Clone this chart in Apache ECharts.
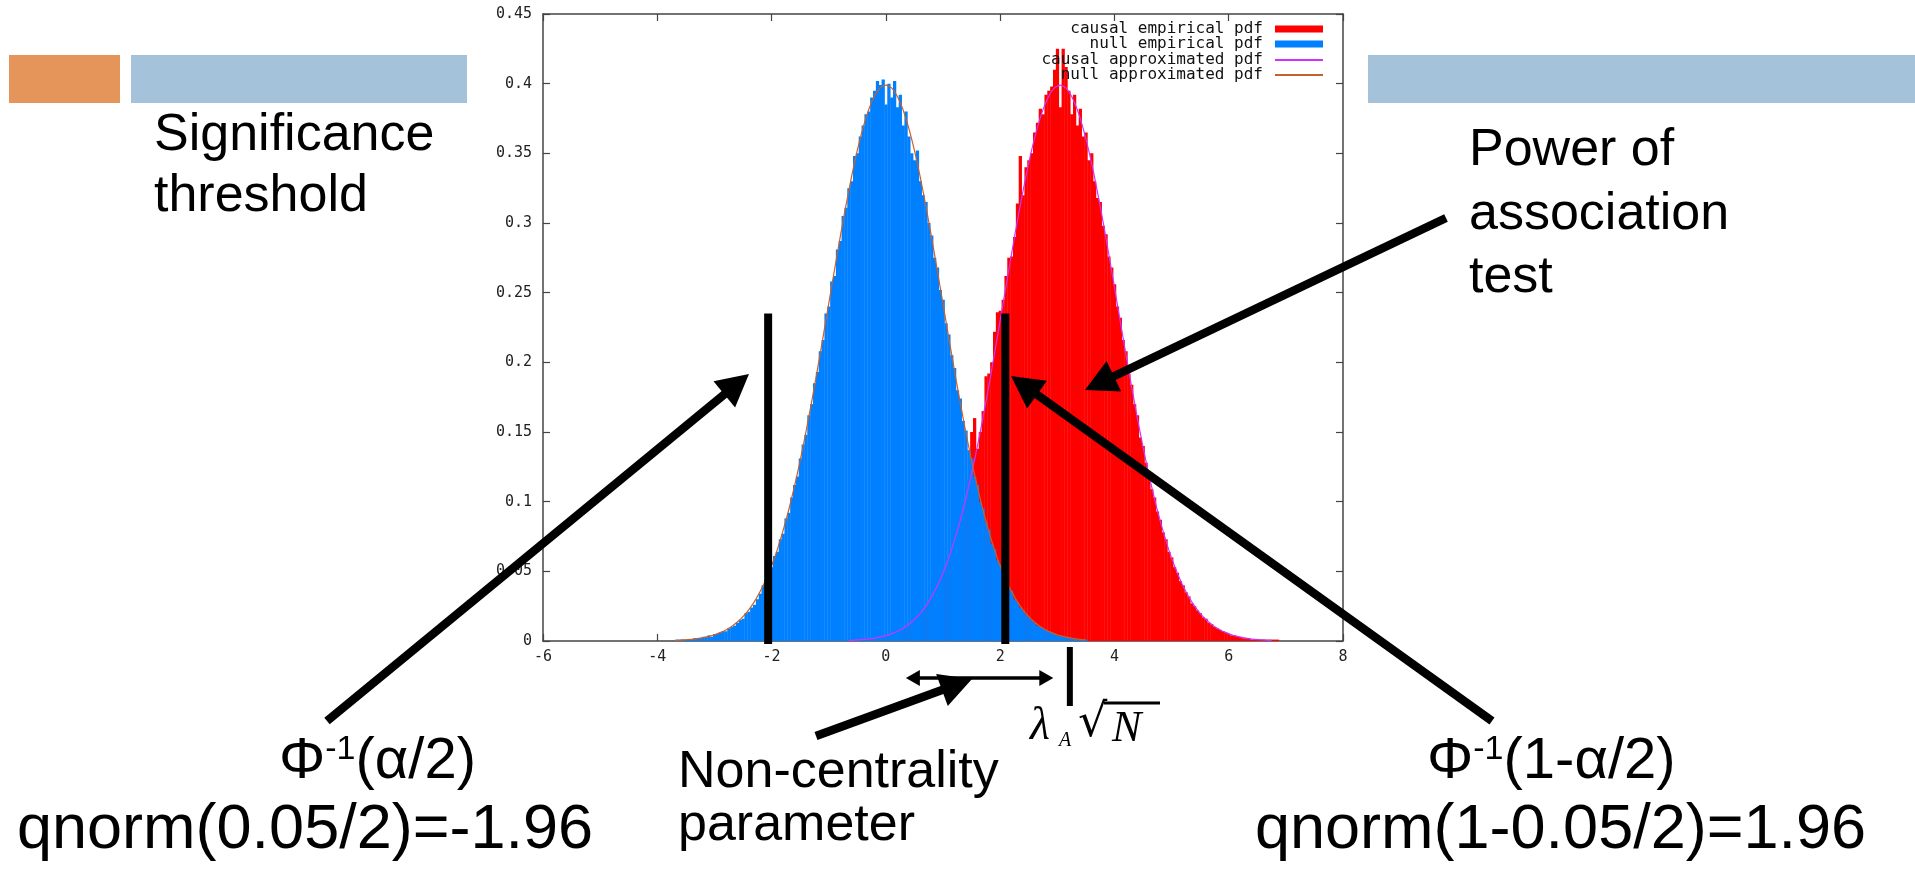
<!DOCTYPE html>
<html>
<head>
<meta charset="utf-8">
<script src="https://cdn.jsdelivr.net/npm/echarts@6/dist/echarts.min.js"></script>
<style>
html,body{margin:0;padding:0;background:#fff;}
#main{width:1915px;height:871px;}
</style>
</head>
<body>
<div id="main"></div>
<script>
// histogram bins (width 0.05)
var binWidth = 0.05;
var nullStart = -3.70;
var nullEmpirical = [
	0.0005,0.001,0.001,0.001,0.001,0.001,0.001,0.002,0.002,0.002,
	0.003,0.003,0.004,0.003,0.005,0.005,0.006,0.007,0.007,0.009,
	0.010,0.011,0.013,0.015,0.016,0.020,0.021,0.024,0.026,0.030,
	0.034,0.040,0.043,0.050,0.053,0.061,0.064,0.073,0.077,0.088,
	0.092,0.103,0.112,0.118,0.131,0.141,0.148,0.162,0.170,0.185,
	0.193,0.208,0.216,0.235,0.240,0.258,0.262,0.281,0.287,0.305,
	0.311,0.325,0.330,0.348,0.350,0.362,0.370,0.378,0.380,0.390,
	0.395,0.402,0.399,0.403,0.385,0.400,0.390,0.402,0.383,0.392,
	0.370,0.380,0.362,0.350,0.345,0.352,0.330,0.320,0.315,0.300,
	0.291,0.275,0.268,0.252,0.245,0.228,0.220,0.205,0.196,0.180,
	0.174,0.158,0.151,0.137,0.131,0.118,0.112,0.100,0.095,0.085,
	0.080,0.070,0.066,0.058,0.055,0.047,0.044,0.038,0.036,0.030,
	0.028,0.024,0.022,0.019,0.017,0.015,0.013,0.011,0.010,0.009,
	0.008,0.007,0.006,0.005,0.004,0.004,0.003,0.003,0.002,0.002,
	0.002,0.001,0.001,0.001,0.001
];
var causalStart = -0.60;
var causalEmpirical = [
	0.001,0.001,0.001,0.001,0.001,0.001,0.002,0.002,0.002,0.002,
	0.003,0.003,0.004,0.004,0.005,0.006,0.007,0.008,0.009,0.010,
	0.012,0.013,0.016,0.017,0.020,0.022,0.025,0.028,0.032,0.035,
	0.040,0.044,0.049,0.054,0.060,0.065,0.072,0.079,0.086,0.094,
	0.102,0.115,0.150,0.160,0.138,0.150,0.165,0.190,0.192,0.200,
	0.222,0.236,0.237,0.245,0.262,0.275,0.276,0.290,0.314,0.348,
	0.320,0.340,0.345,0.350,0.365,0.372,0.382,0.378,0.392,0.395,
	0.398,0.410,0.425,0.383,0.425,0.412,0.395,0.378,0.392,0.370,
	0.382,0.362,0.365,0.345,0.350,0.330,0.318,0.315,0.298,0.292,
	0.276,0.268,0.256,0.240,0.232,0.216,0.208,0.192,0.184,0.170,
	0.162,0.146,0.140,0.128,0.121,0.109,0.103,0.093,0.087,0.078,
	0.073,0.064,0.060,0.053,0.049,0.043,0.040,0.035,0.032,0.027,
	0.025,0.022,0.020,0.017,0.016,0.013,0.012,0.010,0.009,0.008,
	0.007,0.006,0.005,0.004,0.004,0.003,0.003,0.002,0.002,0.002,
	0.001,0.001,0.001,0.001,0.001,0.001,0.001,0.001,0.001,0.001
];
// approximated pdf curves, step 0.1
var curveStep = 0.1;
var nullApproxStart = -3.7;
var nullApprox = [
	0.0004,0.0006,0.0009,0.0012,0.0017,0.0024,0.0033,0.0044,0.0060,0.0079,
	0.0104,0.0136,0.0175,0.0224,0.0283,0.0355,0.0440,0.0540,0.0656,0.0790,
	0.0940,0.1109,0.1295,0.1497,0.1714,0.1942,0.2179,0.2420,0.2661,0.2897,
	0.3123,0.3332,0.3521,0.3683,0.3814,0.3910,0.3970,0.3989,0.3970,0.3910,
	0.3814,0.3683,0.3521,0.3332,0.3123,0.2897,0.2661,0.2420,0.2179,0.1942,
	0.1714,0.1497,0.1295,0.1109,0.0940,0.0790,0.0656,0.0540,0.0440,0.0355,
	0.0283,0.0224,0.0175,0.0136,0.0104,0.0079,0.0060,0.0044,0.0033,0.0024,
	0.0017,0.0012,0.0009
];
var causalApproxStart = -0.65;
var causalApprox = [
	0.0004,0.0006,0.0009,0.0012,0.0017,0.0024,0.0033,0.0044,0.0060,0.0079,
	0.0104,0.0136,0.0175,0.0224,0.0283,0.0355,0.0440,0.0540,0.0656,0.0790,
	0.0940,0.1109,0.1295,0.1497,0.1714,0.1942,0.2179,0.2420,0.2661,0.2897,
	0.3123,0.3332,0.3521,0.3683,0.3814,0.3910,0.3970,0.3989,0.3970,0.3910,
	0.3814,0.3683,0.3521,0.3332,0.3123,0.2897,0.2661,0.2420,0.2179,0.1942,
	0.1714,0.1497,0.1295,0.1109,0.0940,0.0790,0.0656,0.0540,0.0440,0.0355,
	0.0283,0.0224,0.0175,0.0136,0.0104,0.0079,0.0060,0.0044,0.0033,0.0024,
	0.0017,0.0012,0.0009,0.0006,0.0004
];
// slide annotations in data units
var thresholdX = [-2.06, 2.09];
var thresholdTop = 0.235;
var lambdaX = 3.22;
var nonCentrality = [0.35, 2.93];

var seriesNames = ['causal empirical pdf','null empirical pdf','causal approximated pdf','null approximated pdf'];

function toPairs(start, step, vals){
	var out=[];
	for(var i=0;i<vals.length;i++){
		out.push([Math.round((start+i*step)*1000)/1000, vals[i]]);
	}
	return out;
}

function renderBins(params, api){
	var x=api.value(0), y=api.value(1);
	var p0=api.coord([x-binWidth/2, y]);
	var p1=api.coord([x+binWidth/2, 0]);
	return {
		type:'rect',
		shape:{x:p0[0], y:p0[1], width:p1[0]-p0[0]+0.4, height:p1[1]-p0[1]},
		style:{fill:api.visual('color')}
	};
}

var tickFont = {fontFamily:'DejaVu Sans Mono', fontSize:15, color:'#222'};
var borderLine = {show:true, onZero:false, lineStyle:{color:'#444', width:1.5}};
var inTick = {show:true, inside:true, length:7, lineStyle:{color:'#444', width:1.2}};

function legendFor(name, top, h){
	return {
		data:[{name:name, icon:'rect'}],
		right:592, top:top, padding:0,
		align:'right', selectedMode:false,
		itemWidth:48, itemHeight:h,
		textStyle:{fontFamily:'DejaVu Sans Mono', fontSize:16, color:'#111', padding:[0,7,0,0]}
	};
}

var option = {
	animation:false,
	backgroundColor:'#fff',
	grid:{left:543, right:572, top:14, bottom:230},
	legend:[
		legendFor(seriesNames[0], 21, 7),
		legendFor(seriesNames[1], 36, 7),
		legendFor(seriesNames[2], 52, 2),
		legendFor(seriesNames[3], 67, 2)
	],
	xAxis:[{
		type:'value', min:-6, max:8, interval:2,
		axisLine:borderLine, axisTick:inTick,
		axisLabel:Object.assign({margin:9}, tickFont),
		splitLine:{show:false}
	},{
		type:'value', position:'top', min:-6, max:8, interval:2,
		axisLine:borderLine, axisTick:inTick, axisLabel:{show:false},
		splitLine:{show:false}
	}],
	yAxis:[{
		type:'value', min:0, max:0.45, interval:0.05,
		axisLine:borderLine, axisTick:inTick,
		axisLabel:Object.assign({margin:11}, tickFont),
		splitLine:{show:false}
	},{
		type:'value', position:'right', min:0, max:0.45, interval:0.05,
		axisLine:borderLine, axisTick:inTick, axisLabel:{show:false},
		splitLine:{show:false}
	}],
	series:[{
		name:seriesNames[0], type:'custom', renderItem:renderBins,
		itemStyle:{color:'#ff0000'},
		data:toPairs(causalStart, binWidth, causalEmpirical)
	},{
		name:seriesNames[1], type:'custom', renderItem:renderBins,
		itemStyle:{color:'#0080ff'},
		data:toPairs(nullStart, binWidth, nullEmpirical)
	},{
		name:seriesNames[2], type:'line', showSymbol:false, smooth:0.2,
		itemStyle:{color:'#cc33ff'}, lineStyle:{color:'#cc33ff', width:1.2},
		data:toPairs(causalApproxStart, curveStep, causalApprox)
	},{
		name:seriesNames[3], type:'line', showSymbol:false, smooth:0.2,
		itemStyle:{color:'#c8602a'}, lineStyle:{color:'#c8602a', width:1.2},
		data:toPairs(nullApproxStart, curveStep, nullApprox)
	}]
};

var chart = echarts.init(document.getElementById('main'));
chart.setOption(option);

function px(x, y){ return chart.convertToPixel({seriesIndex:0}, [x, y]); }

function arrow(x1, y1, x2, y2, w, headLen, headHalf){
	var dx=x2-x1, dy=y2-y1, len=Math.sqrt(dx*dx+dy*dy);
	var ux=dx/len, uy=dy/len;
	var bx=x2-ux*headLen, by=y2-uy*headLen;
	return [
		{type:'line', z:100, shape:{x1:x1, y1:y1, x2:bx+ux*3, y2:by+uy*3}, style:{stroke:'#000', lineWidth:w}},
		{type:'polygon', z:100, shape:{points:[[x2,y2],[bx-uy*headHalf, by+ux*headHalf],[bx+uy*headHalf, by-ux*headHalf]]}, style:{fill:'#000'}}
	];
}

function txt(x, y, s, size, extra){
	var st = {text:s, fill:'#000', font:size+'px "Liberation Sans"', verticalAlign:'middle'};
	if(extra){ for(var k in extra){ st[k]=extra[k]; } }
	return {type:'text', z:100, x:x, y:y, style:st};
}

var g = [];
// slide header bars
g.push({type:'rect', z:100, shape:{x:9, y:55, width:111, height:48}, style:{fill:'#e59559'}});
g.push({type:'rect', z:100, shape:{x:131, y:55, width:336, height:48}, style:{fill:'#a5c2db'}});
g.push({type:'rect', z:100, shape:{x:1368, y:55, width:547, height:48}, style:{fill:'#a5c2db'}});

// threshold lines
var axisY = px(0, 0)[1];
thresholdX.forEach(function(tx){
	var top = px(tx, thresholdTop);
	g.push({type:'line', z:100, shape:{x1:top[0], y1:top[1], x2:top[0], y2:axisY+3}, style:{stroke:'#000', lineWidth:8}});
});
// lambda sqrt(N) tick
var lx = px(lambdaX, 0)[0];
g.push({type:'line', z:100, shape:{x1:lx, y1:axisY+6, x2:lx, y2:axisY+65}, style:{stroke:'#000', lineWidth:6}});
// non-centrality double arrow
var ncA = px(nonCentrality[0], 0)[0], ncB = px(nonCentrality[1], 0)[0], ncY = axisY+37;
g = g.concat(arrow(ncA+12, ncY, ncB, ncY, 3, 14, 8));
g = g.concat(arrow(ncB-12, ncY, ncA, ncY, 3, 14, 8));

// big pointer arrows
g = g.concat(arrow(327, 721, 749, 374, 8.5, 32, 17));
g = g.concat(arrow(1492, 721, 1011, 376, 8.5, 32, 17));
g = g.concat(arrow(1446, 218, 1085, 390, 8.5, 32, 17));
g = g.concat(arrow(816, 736, 972, 679, 8.5, 32, 17));

// slide text
g.push(txt(154, 136, 'Significance', 52));
g.push(txt(154, 197, 'threshold', 52));
g.push(txt(1469, 151, 'Power of', 52));
g.push(txt(1469, 215, 'association', 52));
g.push(txt(1469, 278, 'test', 52));
g.push(txt(678, 773, 'Non-centrality', 52));
g.push(txt(678, 826, 'parameter', 52));
g.push(txt(17, 831, 'qnorm(0.05/2)=-1.96', 63));
g.push(txt(1255, 831, 'qnorm(1-0.05/2)=1.96', 63));
var phiRich = {a:{fontSize:58, fontFamily:'Liberation Sans', verticalAlign:'bottom'}, s:{fontSize:34, fontFamily:'Liberation Sans', verticalAlign:'top'}};
g.push(txt(279, 762, '{a|Φ}{s|-1}{a|(α/2)}', 58, {rich:phiRich}));
g.push(txt(1427, 762, '{a|Φ}{s|-1}{a|(1-α/2)}', 58, {rich:phiRich}));

// lambda_A sqrt(N)
g.push({type:'text', z:100, x:1030, y:727, style:{text:'λ', fill:'#000', font:'italic 46px "Liberation Serif"', verticalAlign:'middle'}});
g.push({type:'text', z:100, x:1059, y:741, style:{text:'A', fill:'#000', font:'italic 20px "Liberation Serif"', verticalAlign:'middle'}});
g.push({type:'text', z:100, x:1078, y:724, style:{text:'√', fill:'#000', font:'46px "DejaVu Serif"', verticalAlign:'middle'}});
g.push({type:'text', z:100, x:1112, y:729, style:{text:'N', fill:'#000', font:'italic 44px "Liberation Serif"', verticalAlign:'middle'}});
g.push({type:'line', z:100, shape:{x1:1104, y1:703, x2:1160, y2:703}, style:{stroke:'#000', lineWidth:3}});

chart.setOption({graphic:g});
</script>
</body>
</html>
